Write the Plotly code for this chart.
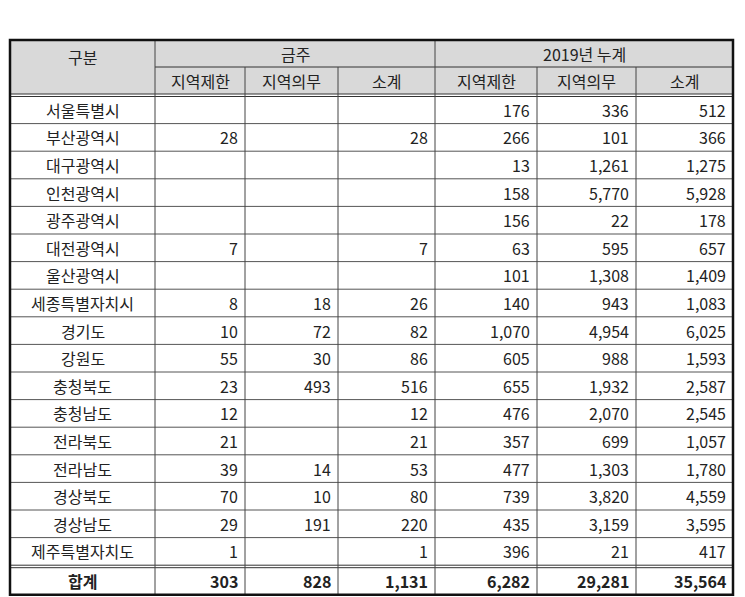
import plotly.graph_objects as go

regions = ["서울특별시", "부산광역시", "대구광역시", "인천광역시", "광주광역시", "대전광역시",
           "울산광역시", "세종특별자치시", "경기도", "강원도", "충청북도", "충청남도",
           "전라북도", "전라남도", "경상북도", "경상남도", "제주특별자치도"]
week_limit = [None, 28, None, None, None, 7, None, 8, 10, 55, 23, 12, 21, 39, 70, 29, 1]
week_duty = [None, None, None, None, None, None, None, 18, 72, 30, 493, None, None, 14, 10, 191, None]
week_sub = [None, 28, None, None, None, 7, None, 26, 82, 86, 516, 12, 21, 53, 80, 220, 1]
cum_limit = [176, 266, 13, 158, 156, 63, 101, 140, 1070, 605, 655, 476, 357, 477, 739, 435, 396]
cum_duty = [336, 101, 1261, 5770, 22, 595, 1308, 943, 4954, 988, 1932, 2070, 699, 1303, 3820, 3159, 21]
cum_sub = [512, 366, 1275, 5928, 178, 657, 1409, 1083, 6025, 1593, 2587, 2545, 1057, 1780, 4559, 3595, 417]
total_label = "합계"
totals = [303, 828, 1131, 6282, 29281, 35564]
group_labels = ["금주", "2019년 누계"]
sub_labels = ["지역제한", "지역의무", "소계"]

# layout in screen pixel coordinates (page has an 8px body margin)
col_x = [10, 155, 245, 338, 435, 537, 636, 733]
top, mid, head_bot = 40, 67, 94
row_h = 27.6
FONT = "Noto Sans CJK KR"
fs = 16

shapes, ann = [], []

def line(x0, y0, x1, y1, w=1, c="#333"):
    shapes.append(dict(type="line", x0=x0, y0=y0, x1=x1, y1=y1, line=dict(color=c, width=w)))

def text(x, y, s, anchor="center", bold=False, size=fs):
    ann.append(dict(x=x, y=y, text=f"<b>{s}</b>" if bold else s, showarrow=False,
                    xanchor=anchor, yanchor="middle", font=dict(family=FONT, size=size, color="#222")))

shapes.append(dict(type="rect", x0=col_x[0], y0=top, x1=col_x[-1], y1=head_bot,
                   fillcolor="#d9d9d9", line=dict(width=0), layer="below"))

n = len(regions)
rows_top = head_bot + 2
total_top = rows_top + n * row_h + 2
bottom = total_top + row_h

text((col_x[0] + col_x[1]) / 2, (top + mid) / 2 + 3, "구분")
for g, lab in enumerate(group_labels):
    text((col_x[1 + 3 * g] + col_x[4 + 3 * g]) / 2, (top + mid) / 2, lab)
    for k, s in enumerate(sub_labels):
        c = 1 + 3 * g + k
        text((col_x[c] + col_x[c + 1]) / 2, (mid + head_bot) / 2, s)

def fmt(v):
    return "" if v is None else f"{v:,}"

cols = [week_limit, week_duty, week_sub, cum_limit, cum_duty, cum_sub]
for i, r in enumerate(regions):
    yc = rows_top + (i + 0.5) * row_h
    text((col_x[0] + col_x[1]) / 2, yc, r)
    for c, vals in enumerate(cols):
        text(col_x[c + 2] - 5, yc, fmt(vals[i]), anchor="right")
    if i > 0:
        line(col_x[0], rows_top + i * row_h, col_x[-1], rows_top + i * row_h, 1, "#555")

yc = total_top + row_h / 2
text((col_x[0] + col_x[1]) / 2, yc, total_label, bold=True)
for c, v in enumerate(totals):
    text(col_x[c + 2] - 5, yc, fmt(v), anchor="right", bold=True)

line(col_x[1], mid, col_x[-1], mid)
line(col_x[0], head_bot, col_x[-1], head_bot)
line(col_x[0], head_bot + 2.5, col_x[-1], head_bot + 2.5)
line(col_x[0], total_top - 2, col_x[-1], total_top - 2)
line(col_x[0], total_top + 0.5, col_x[-1], total_top + 0.5)
for c in range(1, len(col_x) - 1):
    y0 = top if c in (1, 4) else mid
    line(col_x[c], y0, col_x[c], bottom, 1, "#444")
shapes.append(dict(type="rect", x0=col_x[0], y0=top, x1=col_x[-1], y1=bottom,
                   line=dict(color="#111", width=2.5)))

ann.append(dict(x=6, y=17, text="(단위 : 억원)", showarrow=False, xanchor="left", yanchor="middle",
                font=dict(family=FONT, size=16, color="#222")))

fig = go.Figure()
fig.update_layout(
    width=745, height=597, margin=dict(l=0, r=0, t=0, b=0),
    plot_bgcolor="white", paper_bgcolor="white",
    xaxis=dict(range=[8, 753], visible=False, fixedrange=True),
    yaxis=dict(range=[605, 8], visible=False, fixedrange=True),
    shapes=shapes, annotations=ann, showlegend=False,
)
fig.write_html("out.html")
